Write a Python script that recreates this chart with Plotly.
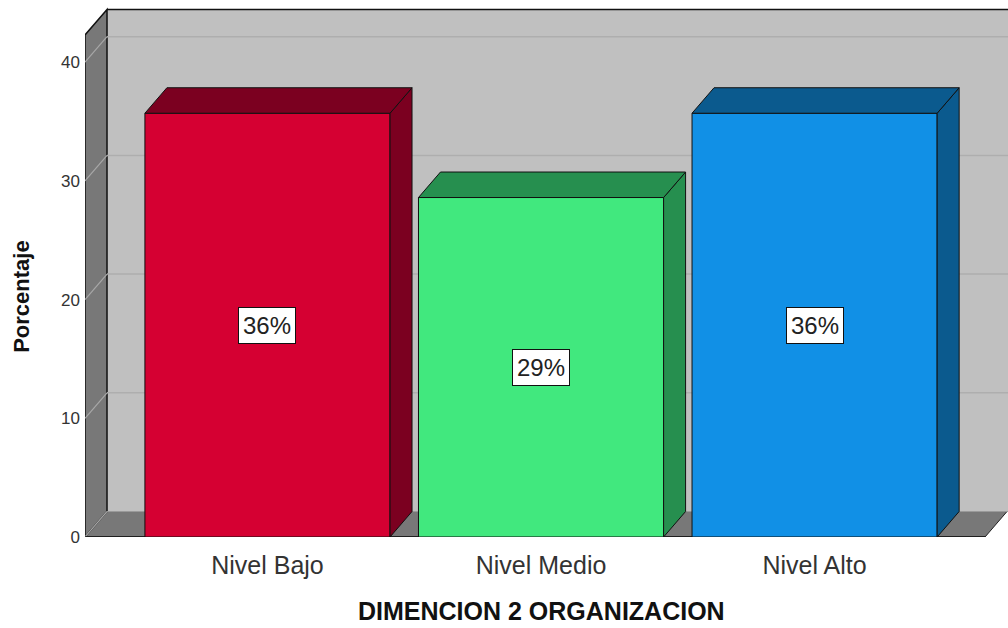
import plotly.graph_objects as go

# ---- data ----
categories = ["Nivel Bajo", "Nivel Medio", "Nivel Alto"]
percentages = [35.7, 28.6, 35.7]
bar_labels = ["36%", "29%", "36%"]
y_ticks = [0, 10, 20, 30, 40]
x_title = "DIMENCION 2 ORGANIZACION"
y_title = "Porcentaje"

front_colors = ["#d50032", "#41e87e", "#1190e6"]
dark_colors = ["#7b0020", "#268f4f", "#0b5a8e"]

# ---- geometry (in data units) ----
px_per_cat = 273.5
px_per_unit = 11.87
DX = 22 / px_per_cat          # depth offset in x
DY = 25.5 / px_per_unit       # depth offset in y
BAR_W = 0.896
X_MIN, X_MAX = -0.667, 2.707
Y_MAX = 537 / px_per_unit
WALL_TOP = 42.3
XL = X_MIN
XR = 2.623

WALL = "#787878"
BACK = "#c0c0c0"

def path(pts):
    return "M " + " L ".join(f"{x},{y}" for x, y in pts) + " Z"

shapes = []
# back wall
shapes.append(dict(type="path", xref="x", yref="y", layer="below",
                   path=path([(XL + DX, DY), (X_MAX + 0.05, DY), (X_MAX + 0.05, WALL_TOP + DY), (XL + DX, WALL_TOP + DY)]),
                   fillcolor=BACK, line=dict(width=0)))
# floor
shapes.append(dict(type="path", xref="x", yref="y", layer="below",
                   path=path([(XL, 0), (XR, 0), (XR + DX, DY), (XL + DX, DY)]),
                   fillcolor=WALL, line=dict(color="#222222", width=1)))
# left wall
shapes.append(dict(type="path", xref="x", yref="y", layer="below",
                   path=path([(XL, 0), (XL + DX, DY), (XL + DX, WALL_TOP + DY), (XL, WALL_TOP)]),
                   fillcolor=WALL, line=dict(color="#111111", width=1.5)))
# gridlines
for v in y_ticks:
    if v > 0:
        shapes.append(dict(type="line", xref="x", yref="y", layer="below",
                           x0=XL + DX, x1=X_MAX + 0.05, y0=v + DY, y1=v + DY,
                           line=dict(color="#aeaeae", width=1.5)))
    shapes.append(dict(type="line", xref="x", yref="y", layer="below",
                       x0=XL, x1=XL + DX, y0=v, y1=v + DY,
                       line=dict(color="#a8a8a8", width=1.2)))
# back wall top edge
shapes.append(dict(type="line", xref="x", yref="y", layer="below",
                   x0=XL + DX, x1=X_MAX + 0.05, y0=WALL_TOP + DY, y1=WALL_TOP + DY,
                   line=dict(color="#111111", width=1.5)))
# inner corner line
shapes.append(dict(type="line", xref="x", yref="y", layer="below",
                   x0=XL + DX, x1=X_MAX + 0.05, y0=DY, y1=DY,
                   line=dict(color="#9a9a9a", width=1)))
shapes.append(dict(type="line", xref="x", yref="y", layer="below",
                   x0=XL, x1=XR, y0=0, y1=0,
                   line=dict(color="#111111", width=1.5)))

fig = go.Figure()

xs = list(range(len(categories)))
fig.add_trace(go.Bar(
    x=xs, y=percentages, width=BAR_W,
    marker=dict(color=front_colors, line=dict(color="#111111", width=1)),
    showlegend=False, hoverinfo="skip",
))

for i, v in enumerate(percentages):
    xr = xs[i] + BAR_W / 2
    xl = xs[i] - BAR_W / 2
    # side face
    fig.add_trace(go.Scatter(
        x=[xr, xr + DX, xr + DX, xr, xr], y=[0, DY, v + DY, v, 0],
        mode="lines", fill="toself", fillcolor=dark_colors[i],
        line=dict(color="#111111", width=1), showlegend=False, hoverinfo="skip"))
    # top face
    fig.add_trace(go.Scatter(
        x=[xl, xl + DX, xr + DX, xr, xl], y=[v, v + DY, v + DY, v, v],
        mode="lines", fill="toself", fillcolor=dark_colors[i],
        line=dict(color="#111111", width=1), showlegend=False, hoverinfo="skip"))

FONT = "Liberation Sans, Arial, sans-serif"
annotations = []
for i, v in enumerate(percentages):
    annotations.append(dict(
        x=xs[i], y=v / 2, xref="x", yref="y", text=bar_labels[i], showarrow=False,
        font=dict(family=FONT, size=24, color="#222222"),
        bgcolor="white", bordercolor="#111111", borderwidth=1, borderpad=4))

# axis titles
annotations.append(dict(
    x=1.0, y=-0.1657, xref="x", yref="paper", text=f"<b>{x_title}</b>", showarrow=False,
    xanchor="center", yanchor="bottom", borderpad=0,
    font=dict(family=FONT, size=25, color="#111111")))
annotations.append(dict(
    x=-0.0683, y=0.449, xref="paper", yref="paper", text=f"<b>{y_title}</b>", showarrow=False,
    textangle=-90, xanchor="center", yanchor="middle",
    font=dict(family=FONT, size=22, color="#111111")))

fig.update_layout(
    width=1008, height=628,
    margin=dict(l=85, r=0, t=0, b=91),
    paper_bgcolor="white", plot_bgcolor="white",
    shapes=shapes, annotations=annotations,
    font=dict(family=FONT, color="#222222"),
    xaxis=dict(range=[X_MIN, X_MAX], tickvals=xs, ticktext=categories,
               showgrid=False, zeroline=False, showline=False,
               tickfont=dict(size=25, color="#333333"), ticklabelstandoff=11),
    yaxis=dict(range=[0, Y_MAX], tickvals=y_ticks, showgrid=False, zeroline=False,
               showline=False, tickfont=dict(size=17, color="#333333"),
               ticklabelstandoff=4),
)

fig.write_html("out.html")
